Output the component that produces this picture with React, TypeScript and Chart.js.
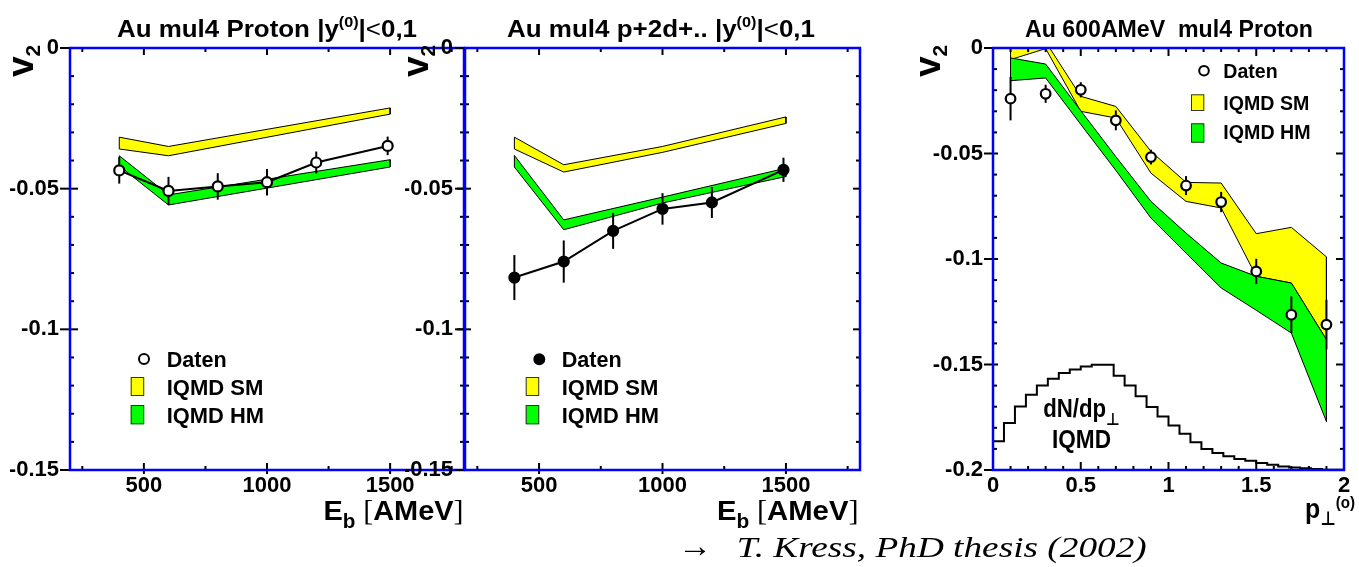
import { useEffect, useRef } from "react";
import { Chart, registerables } from "chart.js";

Chart.register(...registerables);

const W = 1359;
const H = 567;
const SANS = '"Liberation Sans", Arial, Helvetica, "DejaVu Sans", sans-serif';
const SERIF = '"Liberation Serif", "Times New Roman", "DejaVu Serif", serif';
const YELLOW = "#ffff00";
const GREEN = "#00ff00";

// ---------- Panel A: Au mul4 Proton |y0|<0,1 ----------
const EB_POINTS_A = [400, 600, 800, 1000, 1200, 1490];
const V2_POINTS_A = [-0.0435, -0.0508, -0.0492, -0.0477, -0.0407, -0.0348];
const V2_ERRORS_A = [0.0047, 0.005, 0.0047, 0.0047, 0.0039, 0.0033];
const EB_BAND_A = [400, 600, 1500];
const SM_UPPER_A = [-0.0317, -0.035, -0.0213];
const SM_LOWER_A = [-0.0359, -0.0383, -0.0235];
const HM_UPPER_A = [-0.0383, -0.0522, -0.0397];
const HM_LOWER_A = [-0.0419, -0.0558, -0.0423];

// ---------- Panel B: Au mul4 p+2d+.. |y0|<0,1 ----------
const EB_POINTS_B = [400, 600, 800, 1000, 1200, 1490];
const V2_POINTS_B = [-0.0816, -0.0759, -0.065, -0.0572, -0.0549, -0.0433];
const V2_ERRORS_B = [0.008, 0.0075, 0.0064, 0.0056, 0.0055, 0.0043];
const EB_BAND_B = [400, 600, 1000, 1500];
const SM_UPPER_B = [-0.0317, -0.0415, -0.035, -0.0245];
const SM_LOWER_B = [-0.0359, -0.0441, -0.0371, -0.0268];
const HM_UPPER_B = [-0.0382, -0.0611, -0.053, -0.0427];
const HM_LOWER_B = [-0.0423, -0.0646, -0.0551, -0.0457];

// ---------- Panel C: Au 600AMeV mul4 Proton vs pt ----------
const PT_POINTS = [0.1, 0.3, 0.5, 0.7, 0.9, 1.1, 1.3, 1.5, 1.7, 1.9];
const V2_POINTS_C = [-0.024, -0.0217, -0.0198, -0.0343, -0.0517, -0.0652, -0.073, -0.1059, -0.1264, -0.1311];
const V2_ERRORS_C = [0.0103, 0.0043, 0.0036, 0.0047, 0.0035, 0.0045, 0.0048, 0.006, 0.0087, 0.0118];
const SM_UPPER_C = [0.004, 0.003, -0.0229, -0.0277, -0.049, -0.0637, -0.064, -0.088, -0.085, -0.099];
const SM_LOWER_C = [-0.0055, -0.0003, -0.03, -0.0332, -0.0593, -0.0727, -0.0758, -0.1082, -0.1114, -0.1382];
const HM_UPPER_C = [-0.0047, -0.0076, -0.0297, -0.0515, -0.0727, -0.0877, -0.1019, -0.1082, -0.1114, -0.1382];
const HM_LOWER_C = [-0.0155, -0.0142, -0.0362, -0.058, -0.0806, -0.0972, -0.1137, -0.1243, -0.1351, -0.177];
const DNDPT_BIN_WIDTH = 0.0625;
const DNDPT_LEVELS = [
  -0.1959, -0.1864, -0.1777, -0.1699, -0.1643, -0.16, -0.1567, -0.154,
  -0.1524, -0.1509, -0.1501, -0.1501, -0.1553, -0.16, -0.1651, -0.1701,
  -0.1746, -0.1789, -0.1828, -0.1869, -0.19, -0.1919, -0.1935, -0.1948,
  -0.1956, -0.1967, -0.1975, -0.1983, -0.1988, -0.1992, -0.1995, -0.1999,
];

// ---------- Axis ticks ----------
const EB_TICKS = [500, 1000, 1500];
const EB_MINOR = [250, 750, 1250, 1750];
const V2_TICKS_AB = [0, -0.05, -0.1, -0.15];
const PT_TICKS = [0, 0.5, 1, 1.5, 2];
const V2_TICKS_C = [0, -0.05, -0.1, -0.15, -0.2];

function steps(from: number, to: number, step: number, skip: number[]) {
  const out: number[] = [];
  const n = Math.round((to - from) / step);
  for (let i = 0; i <= n; i++) {
    const v = +(from + i * step).toFixed(4);
    if (!skip.some((s) => Math.abs(s - v) < 1e-9)) out.push(v);
  }
  return out;
}

type Seg = { t: string; size: number; dy?: number; family?: string; weight?: string; style?: string };

function fontOf(s: Seg) {
  return `${s.style ?? "normal"} ${s.weight ?? "bold"} ${s.size}px ${s.family ?? SANS}`;
}

function drawRich(
  ctx: CanvasRenderingContext2D,
  segs: Seg[],
  x: number,
  y: number,
  opts: { align?: "left" | "center" | "right"; width?: number; rotate?: boolean } = {}
) {
  ctx.save();
  ctx.textBaseline = "alphabetic";
  ctx.textAlign = "left";
  const widths = segs.map((s) => {
    ctx.font = fontOf(s);
    return ctx.measureText(s.t).width;
  });
  const natural = widths.reduce((a, b) => a + b, 0);
  const sx = opts.width ? opts.width / natural : 1;
  const total = natural * sx;
  ctx.translate(x, y);
  if (opts.rotate) ctx.rotate(-Math.PI / 2);
  let start = 0;
  if (opts.align === "center") start = -total / 2;
  else if (opts.align === "right") start = -total;
  ctx.translate(start, 0);
  ctx.scale(sx, 1);
  ctx.fillStyle = "#000";
  let cx = 0;
  segs.forEach((s, i) => {
    ctx.font = fontOf(s);
    ctx.fillText(s.t, cx, s.dy ?? 0);
    cx += widths[i];
  });
  ctx.restore();
}

function legendCircle(ctx: CanvasRenderingContext2D, x: number, y: number, r: number, filled: boolean) {
  ctx.save();
  ctx.beginPath();
  ctx.arc(x, y, r, 0, Math.PI * 2);
  ctx.fillStyle = filled ? "#000" : "#fff";
  ctx.fill();
  ctx.lineWidth = 2;
  ctx.strokeStyle = "#000";
  ctx.stroke();
  ctx.restore();
}

function legendBox(ctx: CanvasRenderingContext2D, x: number, y: number, w: number, h: number, color: string) {
  ctx.save();
  ctx.fillStyle = color;
  ctx.fillRect(x, y, w, h);
  ctx.lineWidth = 1;
  ctx.strokeStyle = "#333";
  ctx.strokeRect(x + 0.5, y + 0.5, w - 1, h - 1);
  ctx.restore();
}

const V2_LABEL: Seg[] = [
  { t: "v", size: 37 },
  { t: "2", size: 21, dy: 7 },
];
const EB_LABEL: Seg[] = [
  { t: "E", size: 28 },
  { t: "b", size: 20, dy: 8 },
  { t: " ", size: 27 },
  { t: "[", size: 29, family: SERIF, weight: "normal" },
  { t: "AMeV", size: 28 },
  { t: "]", size: 29, family: SERIF, weight: "normal" },
];

function bandPolygon(xs: number[], hi: number[], lo: number[]) {
  const pts = xs.map((x, i) => ({ x, y: hi[i] }));
  for (let i = xs.length - 1; i >= 0; i--) pts.push({ x: xs[i], y: lo[i] });
  pts.push({ x: xs[0], y: hi[0] });
  return pts;
}

function bandDataset(xs: number[], hi: number[], lo: number[], color: string, order: number) {
  return {
    type: "line",
    data: bandPolygon(xs, hi, lo),
    borderColor: "#000",
    borderWidth: 1,
    backgroundColor: color,
    fill: "shape",
    pointRadius: 0,
    tension: 0,
    order,
  };
}

function pointsDataset(xs: number[], ys: number[], errs: number[], filled: boolean, showLine: boolean, r: number) {
  return {
    type: "line",
    data: xs.map((x, i) => ({ x, y: ys[i] })),
    errors: errs,
    borderColor: "#000",
    borderWidth: 2,
    showLine,
    fill: false,
    pointRadius: r,
    pointBorderWidth: 2.2,
    pointBorderColor: "#000",
    pointBackgroundColor: filled ? "#000" : "#fff",
    tension: 0,
    order: 1,
  };
}

function histDataset() {
  const data = DNDPT_LEVELS.map((y, i) => ({ x: i * DNDPT_BIN_WIDTH, y }));
  data.push({ x: DNDPT_LEVELS.length * DNDPT_BIN_WIDTH, y: DNDPT_LEVELS[DNDPT_LEVELS.length - 1] });
  return {
    type: "line",
    data,
    stepped: "after",
    borderColor: "#000",
    borderWidth: 2,
    pointRadius: 0,
    fill: false,
    order: 2,
  };
}

type TickLen = { leftOut: number; leftIn: number; rightIn: number; bottomOut: number; bottomIn: number; topIn: number; minor: number };

type PanelCfg = {
  area: { left: number; right: number; top: number; bottom: number };
  xMin: number;
  xMax: number;
  yMin: number;
  yMax: number;
  xTicks: number[];
  yTicks: number[];
  xMinor: number[];
  yMinor: number[];
  yPad: number;
  tick: TickLen;
  datasets: any[];
  decorate: (ctx: CanvasRenderingContext2D) => void;
};

const YW = 60;
const XH = 40;

function fmt(v: number) {
  const n = Number(v);
  if (Math.abs(n) < 1e-12) return "0";
  return String(parseFloat(n.toFixed(3)));
}

function makePanel(canvas: HTMLCanvasElement, cfg: PanelCfg) {
  const tickFont = { family: SANS, size: 22, weight: "bold" as const };
  const errorBars = {
    id: "errorBars",
    beforeDatasetDraw(chart: any, args: any) {
      const ds = chart.data.datasets[args.index];
      if (!ds.errors) return;
      const { ctx, chartArea: a } = chart;
      const y = chart.scales.y;
      ctx.save();
      ctx.beginPath();
      ctx.rect(a.left, a.top, a.right - a.left, a.bottom - a.top);
      ctx.clip();
      ctx.strokeStyle = "#000";
      ctx.lineWidth = 2;
      args.meta.data.forEach((pt: any, i: number) => {
        const v = ds.data[i].y;
        const e = ds.errors[i];
        ctx.beginPath();
        ctx.moveTo(pt.x, y.getPixelForValue(v + e));
        ctx.lineTo(pt.x, y.getPixelForValue(v - e));
        ctx.stroke();
      });
      ctx.restore();
    },
  };
  const frame = {
    id: "frame",
    afterDatasetsDraw(chart: any) {
      const { ctx, chartArea: a } = chart;
      const xs = chart.scales.x;
      const ys = chart.scales.y;
      const t = cfg.tick;
      ctx.save();
      ctx.strokeStyle = "#000";
      ctx.lineWidth = 2;
      const seg = (x1: number, y1: number, x2: number, y2: number) => {
        ctx.beginPath();
        ctx.moveTo(x1, y1);
        ctx.lineTo(x2, y2);
        ctx.stroke();
      };
      cfg.xTicks.forEach((v) => {
        const px = xs.getPixelForValue(v);
        seg(px, a.bottom + t.bottomOut, px, a.bottom - t.bottomIn);
        seg(px, a.top, px, a.top + t.topIn);
      });
      cfg.xMinor.forEach((v) => {
        const px = xs.getPixelForValue(v);
        seg(px, a.bottom, px, a.bottom - t.minor);
        seg(px, a.top, px, a.top + t.minor);
      });
      cfg.yTicks.forEach((v) => {
        const py = ys.getPixelForValue(v);
        seg(a.left - t.leftOut, py, a.left + t.leftIn, py);
        seg(a.right - t.rightIn, py, a.right, py);
      });
      cfg.yMinor.forEach((v) => {
        const py = ys.getPixelForValue(v);
        seg(a.left, py, a.left + t.minor, py);
        seg(a.right - t.minor, py, a.right, py);
      });
      ctx.strokeStyle = "#0000ff";
      ctx.lineWidth = 2.5;
      ctx.strokeRect(a.left, a.top, a.right - a.left, a.bottom - a.top);
      ctx.restore();
    },
    afterDraw(chart: any) {
      cfg.decorate(chart.ctx);
    },
  };
  return new Chart(canvas, {
    type: "line",
    data: { datasets: cfg.datasets },
    options: {
      animation: false,
      responsive: false,
      events: [],
      layout: {
        padding: {
          left: cfg.area.left - YW,
          right: W - cfg.area.right,
          top: cfg.area.top,
          bottom: H - cfg.area.bottom - XH,
        },
      },
      plugins: { legend: { display: false }, tooltip: { enabled: false }, title: { display: false } },
      scales: {
        x: {
          type: "linear",
          position: "bottom",
          min: cfg.xMin,
          max: cfg.xMax,
          grid: { display: false, drawTicks: false },
          border: { display: false },
          ticks: { font: tickFont, color: "#000", padding: 3, autoSkip: false, maxRotation: 0, callback: (v: any) => fmt(v) },
          afterBuildTicks: (s: any) => {
            s.ticks = cfg.xTicks.map((value) => ({ value }));
          },
          afterFit: (s: any) => {
            s.height = XH;
          },
        },
        y: {
          type: "linear",
          position: "left",
          min: cfg.yMin,
          max: cfg.yMax,
          grid: { display: false, drawTicks: false },
          border: { display: false },
          ticks: { font: tickFont, color: "#000", padding: cfg.yPad, autoSkip: false, callback: (v: any) => fmt(v) },
          afterBuildTicks: (s: any) => {
            s.ticks = cfg.yTicks.map((value) => ({ value }));
          },
          afterFit: (s: any) => {
            s.width = YW;
          },
        },
      },
    } as any,
    plugins: [errorBars, frame],
  } as any);
}

const PANEL_A: PanelCfg = {
  area: { left: 70, right: 464, top: 48, bottom: 470 },
  xMin: 200,
  xMax: 1800,
  yMin: -0.15,
  yMax: 0,
  xTicks: EB_TICKS,
  yTicks: V2_TICKS_AB,
  xMinor: EB_MINOR,
  yMinor: steps(-0.15, 0, 0.01, V2_TICKS_AB),
  yPad: 11,
  tick: { leftOut: 10, leftIn: 8, rightIn: 7, bottomOut: 4, bottomIn: 7, topIn: 7, minor: 4 },
  datasets: [
    bandDataset(EB_BAND_A, SM_UPPER_A, SM_LOWER_A, YELLOW, 6),
    bandDataset(EB_BAND_A, HM_UPPER_A, HM_LOWER_A, GREEN, 5),
    pointsDataset(EB_POINTS_A, V2_POINTS_A, V2_ERRORS_A, false, true, 5),
  ],
  decorate: (ctx) => {
    drawRich(
      ctx,
      [
        { t: "Au mul4 Proton |y", size: 24 },
        { t: "(0)", size: 15, dy: -10 },
        { t: "|", size: 24 },
        { t: "<", size: 24, weight: "normal" },
        { t: "0,1", size: 24 },
      ],
      267,
      37.3,
      { align: "center", width: 300 }
    );
    drawRich(ctx, V2_LABEL, 33, 77, { rotate: true });
    drawRich(ctx, EB_LABEL, 463.5, 519.5, { align: "right", width: 140 });
    legendCircle(ctx, 144, 359, 5, false);
    drawRich(ctx, [{ t: "Daten", size: 22 }], 166.7, 366.7, { width: 60 });
    legendBox(ctx, 130.7, 377, 13.5, 19, YELLOW);
    drawRich(ctx, [{ t: "IQMD SM", size: 22 }], 166.7, 395, { width: 96.7 });
    legendBox(ctx, 130.7, 405, 13.5, 19.3, GREEN);
    drawRich(ctx, [{ t: "IQMD HM", size: 22 }], 166.7, 422.7, { width: 97.3 });
  },
};

const PANEL_B: PanelCfg = {
  area: { left: 465, right: 860, top: 48, bottom: 470 },
  xMin: 200,
  xMax: 1800,
  yMin: -0.15,
  yMax: 0,
  xTicks: EB_TICKS,
  yTicks: V2_TICKS_AB,
  xMinor: EB_MINOR,
  yMinor: steps(-0.15, 0, 0.01, V2_TICKS_AB),
  yPad: 12,
  tick: { leftOut: 10, leftIn: 6, rightIn: 7, bottomOut: 4, bottomIn: 7, topIn: 7, minor: 4 },
  datasets: [
    bandDataset(EB_BAND_B, SM_UPPER_B, SM_LOWER_B, YELLOW, 6),
    bandDataset(EB_BAND_B, HM_UPPER_B, HM_LOWER_B, GREEN, 5),
    pointsDataset(EB_POINTS_B, V2_POINTS_B, V2_ERRORS_B, true, true, 5),
  ],
  decorate: (ctx) => {
    drawRich(
      ctx,
      [
        { t: "Au mul4 p+2d+.. |y", size: 24 },
        { t: "(0)", size: 15, dy: -10 },
        { t: "|", size: 24 },
        { t: "<", size: 24, weight: "normal" },
        { t: "0,1", size: 24 },
      ],
      661,
      37.3,
      { align: "center", width: 308 }
    );
    drawRich(ctx, V2_LABEL, 428, 77, { rotate: true });
    drawRich(ctx, EB_LABEL, 858.5, 519.5, { align: "right", width: 141.6 });
    legendCircle(ctx, 539.3, 359.3, 5, true);
    drawRich(ctx, [{ t: "Daten", size: 22 }], 561.7, 366.7, { width: 60 });
    legendBox(ctx, 525.7, 377, 13.5, 19, YELLOW);
    drawRich(ctx, [{ t: "IQMD SM", size: 22 }], 561.7, 395, { width: 96.7 });
    legendBox(ctx, 525.7, 405, 13.5, 19.3, GREEN);
    drawRich(ctx, [{ t: "IQMD HM", size: 22 }], 561.7, 422.7, { width: 97.3 });
  },
};

const PANEL_C: PanelCfg = {
  area: { left: 993, right: 1344, top: 48, bottom: 470 },
  xMin: 0,
  xMax: 2,
  yMin: -0.2,
  yMax: 0,
  xTicks: PT_TICKS,
  yTicks: V2_TICKS_C,
  xMinor: steps(0, 2, 0.1, PT_TICKS),
  yMinor: steps(-0.2, 0, 0.01, V2_TICKS_C),
  yPad: 10,
  tick: { leftOut: 9, leftIn: 5, rightIn: 8, bottomOut: 1, bottomIn: 8, topIn: 8, minor: 4 },
  datasets: [
    bandDataset(PT_POINTS, SM_UPPER_C, SM_LOWER_C, YELLOW, 6),
    bandDataset(PT_POINTS, HM_UPPER_C, HM_LOWER_C, GREEN, 5),
    histDataset(),
    pointsDataset(PT_POINTS, V2_POINTS_C, V2_ERRORS_C, false, false, 4.8),
  ],
  decorate: (ctx) => {
    drawRich(ctx, [{ t: "Au 600AMeV  mul4 Proton", size: 24 }], 1169, 37.3, { align: "center", width: 288 });
    drawRich(ctx, V2_LABEL, 940, 77, { rotate: true });
    drawRich(
      ctx,
      [
        { t: "p", size: 28 },
        { t: "\u22A5", size: 19, dy: 7 },
        { t: "(o)", size: 17, dy: -10 },
      ],
      1355,
      518.3,
      { align: "right", width: 50 }
    );
    legendCircle(ctx, 1204, 70.7, 4.8, false);
    drawRich(ctx, [{ t: "Daten", size: 20 }], 1223.3, 78.3, { width: 54.3 });
    legendBox(ctx, 1191, 94.3, 13.3, 16.7, YELLOW);
    drawRich(ctx, [{ t: "IQMD SM", size: 20 }], 1223.3, 110, { width: 86 });
    legendBox(ctx, 1191, 123.3, 13.3, 19.4, GREEN);
    drawRich(ctx, [{ t: "IQMD HM", size: 20 }], 1223.3, 139.3, { width: 87.3 });
    drawRich(
      ctx,
      [
        { t: "dN/dp", size: 25 },
        { t: "\u22A5", size: 17, dy: 8 },
      ],
      1081.5,
      416.7,
      { align: "center", width: 76.7 }
    );
    drawRich(ctx, [{ t: "IQMD", size: 25 }], 1081.5, 448.3, { align: "center", width: 59 });
    drawRich(ctx, [{ t: "\u2192", size: 34, family: SERIF, weight: "normal" }], 712, 556.7, { align: "right" });
    drawRich(
      ctx,
      [{ t: "T. Kress, PhD thesis (2002)", size: 30, family: SERIF, weight: "normal", style: "italic" }],
      736.7,
      556.7,
      { width: 410 }
    );
  },
};

export default function App() {
  const refA = useRef<HTMLCanvasElement>(null);
  const refB = useRef<HTMLCanvasElement>(null);
  const refC = useRef<HTMLCanvasElement>(null);

  useEffect(() => {
    Chart.defaults.font.family = SANS;
    const charts = [
      makePanel(refA.current!, PANEL_A),
      makePanel(refB.current!, PANEL_B),
      makePanel(refC.current!, PANEL_C),
    ];
    return () => charts.forEach((c) => c.destroy());
  }, []);

  const cs: any = { position: "absolute", left: 0, top: 0 };
  return (
    <div style={{ position: "absolute", left: 0, top: 0, width: W, height: H, background: "#fff", overflow: "hidden" }}>
      <canvas ref={refA} width={W} height={H} style={cs} />
      <canvas ref={refB} width={W} height={H} style={cs} />
      <canvas ref={refC} width={W} height={H} style={cs} />
    </div>
  );
}
